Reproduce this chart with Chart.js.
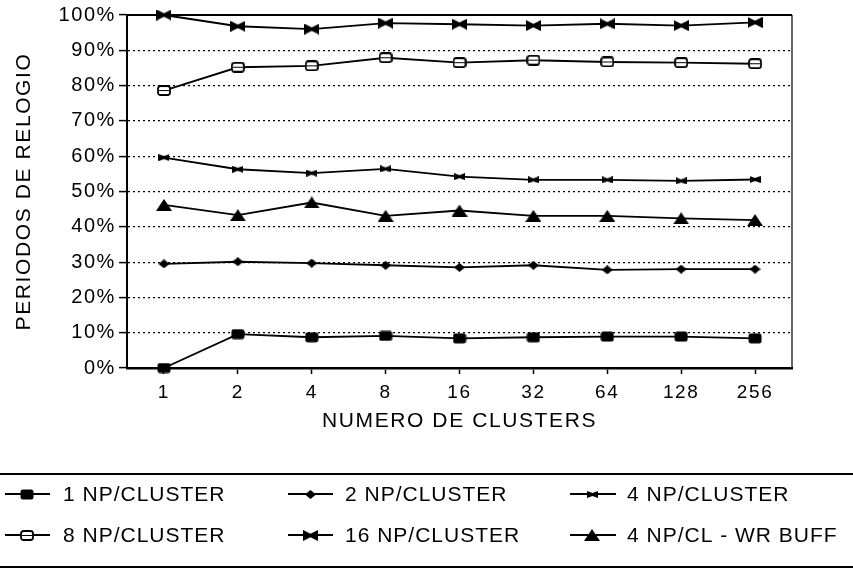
<!DOCTYPE html>
<html><head><meta charset="utf-8">
<script src="https://cdn.jsdelivr.net/npm/chart.js@4/dist/chart.umd.min.js"></script>
<style>html,body{margin:0;padding:0;background:#fff}#wrap{width:853px;height:569px;position:relative}</style>
</head><body><div id="wrap"><canvas id="c" width="853" height="569"></canvas></div>
<script>
const categories = ['1','2','4','8','16','32','64','128','256'];
const seriesNames = ['1 NP/CLUSTER','2 NP/CLUSTER','4 NP/CLUSTER','8 NP/CLUSTER','16 NP/CLUSTER','4 NP/CL - WR BUFF'];
const np1   = [0, 9.6, 8.7, 9.1, 8.4, 8.7, 8.9, 8.9, 8.4];
const np2   = [29.5, 30.1, 29.7, 29.1, 28.5, 29.1, 27.8, 28.0, 28.0];
const np4   = [59.6, 56.3, 55.2, 56.4, 54.2, 53.3, 53.3, 53.0, 53.4];
const np8   = [78.6, 85.2, 85.6, 87.9, 86.5, 87.2, 86.7, 86.5, 86.2];
const np16  = [100, 96.8, 96.0, 97.7, 97.4, 97.0, 97.5, 97.0, 97.9];
const np4wb = [46.2, 43.3, 46.9, 43.1, 44.6, 43.1, 43.1, 42.4, 41.9];
const yTickValues = [0,10,20,30,40,50,60,70,80,90,100];
const xTitle = 'NUMERO DE CLUSTERS';
const yTitle = 'PERIODOS DE RELOGIO';

function mk(w,h,draw){const c=document.createElement('canvas');c.width=w;c.height=h;const g=c.getContext('2d');g.fillStyle='#000';g.strokeStyle='#000';draw(g,w,h);return c;}
const mSquare = mk(14,11,(g,w,h)=>{g.beginPath();g.roundRect(0.5,0.5,w-1,h-1,2.5);g.fill();});
const mOpen = mk(14,11,(g,w,h)=>{g.lineWidth=1.8;g.fillStyle='#fff';g.beginPath();g.roundRect(1,1,w-2,h-2,2.5);g.fill();g.stroke();g.beginPath();g.moveTo(2,h/2);g.lineTo(w-2,h/2);g.lineWidth=1;g.stroke();});
const mDiamond = mk(11,9,(g,w,h)=>{g.beginPath();g.moveTo(0,h/2);g.lineTo(w/2,0);g.lineTo(w,h/2);g.lineTo(w/2,h);g.closePath();g.fill();});
const mBow = mk(15,11,(g,w,h)=>{g.beginPath();g.moveTo(0,0);g.lineTo(w/2,h*0.35);g.lineTo(w,0);g.lineTo(w,h);g.lineTo(w/2,h*0.65);g.lineTo(0,h);g.closePath();g.fill();});
const mBowS = mk(11,7,(g,w,h)=>{g.beginPath();g.moveTo(0,0);g.lineTo(w/2,h*0.3);g.lineTo(w,0);g.lineTo(w,h);g.lineTo(w/2,h*0.7);g.lineTo(0,h);g.closePath();g.fill();});
const mTri = mk(16,12,(g,w,h)=>{g.beginPath();g.moveTo(w/2,0);g.lineTo(w,h);g.lineTo(0,h);g.closePath();g.fill();});

const seriesData = [np1,np2,np4,np8,np16,np4wb];
const markers = [mSquare,mDiamond,mBowS,mOpen,mBow,mTri];

const datasets = seriesData.map((d,i)=>({
  label: seriesNames[i], data: d, borderColor:'#000', backgroundColor:'#000',
  borderWidth:1.9, pointStyle: markers[i], pointRadius:6, pointHoverRadius:6,
  tension:0, clip:false
}));

const legendPos = [
  {x1:5,x2:50,mx:27,tx:63},
  {x1:288,x2:333,mx:310,tx:345},
  {x1:570,x2:616,mx:592,tx:627}
];
const legendRows = [494,535];

const framePlugin = {
  id:'frame',
  beforeDraw(chart){ chart.ctx.letterSpacing='1.6px'; },
  afterDraw(chart){
    const ctx=chart.ctx, a=chart.chartArea;
    ctx.save();
    ctx.letterSpacing='0px';
    ctx.strokeStyle='#000';
    ctx.lineWidth=2;
    ctx.beginPath();ctx.moveTo(a.left,a.top);ctx.lineTo(a.right,a.top);ctx.stroke();
    ctx.lineWidth=1.2;
    ctx.beginPath();ctx.moveTo(a.right,a.top);ctx.lineTo(a.right,a.bottom);ctx.stroke();
    ctx.lineWidth=2;
    ctx.beginPath();ctx.moveTo(0,474);ctx.lineTo(853,474);ctx.stroke();
    ctx.beginPath();ctx.moveTo(0,567);ctx.lineTo(853,567);ctx.stroke();
    ctx.font='21px "Liberation Sans", Arial, sans-serif';
    ctx.letterSpacing='1px';
    ctx.fillStyle='#000';
    ctx.textBaseline='middle';
    ctx.textAlign='left';
    chart.data.datasets.forEach((ds,i)=>{
      const p=legendPos[i%3], y=legendRows[Math.floor(i/3)];
      ctx.lineWidth=1.8;
      ctx.beginPath();ctx.moveTo(p.x1,y);ctx.lineTo(p.x2,y);ctx.stroke();
      const m=ds.pointStyle;
      ctx.drawImage(m,Math.round(p.mx-m.width/2),Math.round(y-m.height/2));
      ctx.fillText(ds.label,p.tx,y+1);
    });
    ctx.restore();
  }
};

new Chart(document.getElementById('c'),{
  type:'line',
  data:{labels:categories,datasets},
  plugins:[framePlugin],
  options:{
    responsive:false, animation:false, devicePixelRatio:1,
    layout:{padding:{left:0,top:15,right:61,bottom:131}},
    plugins:{legend:{display:false},tooltip:{enabled:false}},
    scales:{
      x:{
        type:'category', offset:true,
        grid:{display:true,drawOnChartArea:false,drawTicks:true,tickLength:6,offset:false,color:'#000',tickWidth:1.5},
        border:{display:true,color:'#000',width:2.5},
        ticks:{color:'#000',font:{family:'"Liberation Sans", Arial, sans-serif',size:19},padding:7,maxRotation:0,autoSkip:false},
        title:{display:true,text:xTitle,color:'#000',font:{family:'"Liberation Sans", Arial, sans-serif',size:21},padding:{top:4,bottom:4}},
        afterFit(s){s.height=70;}
      },
      y:{
        min:0,max:100,
        afterBuildTicks(s){s.ticks=yTickValues.map(v=>({value:v}));},
        grid:{display:true,drawOnChartArea:true,drawTicks:true,tickLength:8,color:'#000',lineWidth:1.2,tickWidth:1.5,tickBorderDash:[]},
        border:{display:true,color:'#000',width:2,dash:[2,3]},
        ticks:{color:'#000',font:{family:'"Liberation Sans", Arial, sans-serif',size:20},padding:3,callback:v=>v+'%'},
        title:{display:true,text:yTitle,color:'#000',font:{family:'"Liberation Sans", Arial, sans-serif',size:21},padding:{top:12,bottom:4}},
        afterFit(s){s.width=127;}
      }
    }
  }
});
</script></body></html>
